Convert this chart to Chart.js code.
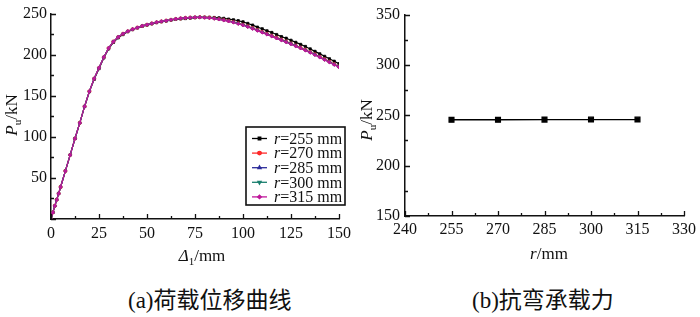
<!DOCTYPE html>
<html>
<head>
<meta charset="utf-8">
<script src="https://cdn.jsdelivr.net/npm/chart.js@4.4.1/dist/chart.umd.min.js"></script>
<style>
  body { margin: 0; background: #fff; }
  #wrap { position: relative; width: 700px; height: 317px; overflow: hidden; background: #fff; }
  canvas { position: absolute; top: 0; }
  .cap { position: absolute; top: 281px; font-size: 23px; color: #111; white-space: nowrap;
         font-family: "Liberation Serif", "Noto Sans CJK SC", serif; }
</style>
</head>
<body>
<div id="wrap">
  <canvas id="curves" width="360" height="270" style="left:0"></canvas>
  <canvas id="capacity" width="340" height="270" style="left:360px"></canvas>
  <div class="cap" style="left:128px">(a)荷载位移曲线</div>
  <div class="cap" style="left:472px">(b)抗弯承载力</div>
</div>
<script>
// displacement Δ1 (mm)
const disp = [0, 1, 2, 3, 4, 5, 7.5, 10, 12.5, 15, 17.5, 20, 22.5, 25, 27.5, 30, 32.5, 35, 37.5, 40,
  42.5, 45, 47.5, 50, 52.5, 55, 57.5, 60, 62.5, 65, 67.5, 70, 72.5, 75, 77.5, 80, 82.5, 85, 87.5, 90,
  92.5, 95, 97.5, 100, 102.5, 105, 107.5, 110, 112.5, 115, 117.5, 120, 122.5, 125, 127.5, 130, 132.5,
  135, 137.5, 140, 142.5, 145, 147.5, 150];

// load Pu (kN) for each r
const p255 = [0, 8, 16, 23.5, 31, 39, 58.5, 78, 98, 117, 137, 155, 170, 183, 196, 207, 215, 220.5, 224.5, 228,
  230.5, 232.5, 234.5, 236, 237.5, 239, 240, 241, 242, 243, 243.5, 244, 244.5, 245, 245.5, 245.5, 245.5, 245.2, 244.8, 244.2,
  243.3, 242.5, 241.3, 240, 238, 236, 233.5, 231.5, 229, 227, 224.5, 222, 220, 217.5, 215, 212.5, 210,
  207, 204, 201, 198, 195, 192, 189];
const p270 = [0, 8, 16, 23.5, 31, 39, 58.5, 78, 98, 117, 137, 155.5, 171, 184, 197, 208, 216, 221.5, 225.5, 228.5,
  231, 233, 235, 236.5, 238, 239.5, 240.5, 241.5, 242.5, 243.5, 244.2, 244.8, 245.2, 245.5, 245.6, 245.4, 245, 244.3, 243.4, 242.4,
  241.2, 239.8, 238.2, 236.5, 234.5, 232.3, 230, 227.7, 225.4, 223, 220.7, 218.3, 216, 213.5, 211, 208.5, 206,
  203.2, 200.4, 197.5, 194.5, 191.5, 188.5, 185.5];
const p285 = [0, 8, 16, 23.5, 31, 39, 58.5, 78, 98, 117, 137, 155.5, 171, 184, 197, 208, 216, 221.5, 225.5, 228.5,
  231, 233, 235, 236.5, 238, 239.5, 240.5, 241.5, 242.5, 243.5, 244.2, 244.8, 245.2, 245.5, 245.5, 245.3, 244.9, 244.2, 243.2, 242.2,
  241, 239.6, 238, 236.2, 234.2, 232, 229.7, 227.4, 225, 222.7, 220.3, 218, 215.6, 213.2, 210.7, 208.2, 205.6,
  202.9, 200.1, 197.2, 194.2, 191.2, 188.2, 185.2];
const p300 = [0, 8, 16, 23.5, 31, 39, 58.5, 78, 98, 117, 137, 155.5, 171, 184, 197, 208, 216, 221.5, 225.5, 228.5,
  231, 233, 235, 236.5, 238, 239.5, 240.5, 241.5, 242.5, 243.5, 244.2, 244.8, 245.2, 245.4, 245.5, 245.2, 244.8, 244, 243, 242,
  240.8, 239.4, 237.8, 236, 234, 231.7, 229.4, 227.1, 224.7, 222.4, 220, 217.7, 215.3, 212.9, 210.4, 207.9, 205.3,
  202.6, 199.8, 196.9, 193.9, 190.9, 187.9, 184.9];
const p315 = [0, 8, 16, 23.5, 31, 39, 58.5, 78, 98, 117, 137, 155.5, 171, 184, 197, 208, 216, 221.5, 225.5, 228.5,
  231, 233, 235, 236.5, 238, 239.5, 240.5, 241.5, 242.5, 243.5, 244.2, 244.8, 245.2, 245.4, 245.4, 245.1, 244.7, 243.9, 242.9, 241.8,
  240.6, 239.2, 237.6, 235.8, 233.8, 231.5, 229.2, 226.9, 224.5, 222.2, 219.8, 217.5, 215.1, 212.7, 210.2, 207.7, 205.1,
  202.4, 199.6, 196.7, 193.7, 190.7, 187.7, 184.7];

// capacity vs r
const radius = [255, 270, 285, 300, 315];
const capacity = [245.6, 245.6, 245.7, 245.8, 245.8];

const serif = '"Liberation Serif", "DejaVu Serif", serif';

function xy(xs, ys) { return xs.map((x, i) => ({ x: x, y: ys[i] })); }

// draws text made of pieces (italic / subscript) centred on x,y
function drawRich(ctx, parts, x, y, rot) {
  ctx.save();
  ctx.translate(x, y);
  if (rot) ctx.rotate(rot);
  ctx.textBaseline = 'middle';
  ctx.fillStyle = '#111';
  let w = 0;
  parts.forEach(p => { ctx.font = p.font; w += ctx.measureText(p.t).width; });
  let cx = -w / 2;
  parts.forEach(p => {
    ctx.font = p.font;
    ctx.fillText(p.t, cx, p.dy || 0);
    cx += ctx.measureText(p.t).width;
  });
  ctx.restore();
}

// inward tick marks
function tickPlugin(xStep, yStep) {
  return {
    id: 'ticks',
    afterDraw(chart) {
      const ctx = chart.ctx, xs = chart.scales.x, ys = chart.scales.y;
      const a = chart.chartArea;
      ctx.save();
      ctx.strokeStyle = '#111';
      ctx.lineWidth = 1.3;
      ctx.beginPath();
      let k = 0;
      for (let v = xs.min; v <= xs.max + 1e-6; v += xStep / 2, k++) {
        const px = Math.round(xs.getPixelForValue(v)) + 0.5;
        const len = k % 2 === 0 ? 5 : 3;
        ctx.moveTo(px, a.bottom); ctx.lineTo(px, a.bottom - len);
      }
      k = 0;
      for (let v = ys.min; v <= ys.max + 1e-6; v += yStep / 2, k++) {
        const py = Math.round(ys.getPixelForValue(v)) + 0.5;
        const len = k % 2 === 0 ? 5 : 3;
        ctx.moveTo(a.left, py); ctx.lineTo(a.left + len, py);
      }
      ctx.stroke();
      ctx.restore();
    }
  };
}

function axisOpts(min, max, step, pad, fit, hideZero) {
  return {
    type: 'linear', min: min, max: max,
    grid: { display: false, drawTicks: false },
    border: { display: true, color: '#111', width: 1.5 },
    ticks: {
      stepSize: step, padding: pad, color: '#111',
      font: { family: serif, size: 16 },
      callback: v => (hideZero && v === 0) ? '' : v
    },
    afterFit: fit
  };
}

const series = [
  { label: '255', data: p255, color: '#000000', style: 'rect', rot: 0 },
  { label: '270', data: p270, color: '#ff2a2a', style: 'circle', rot: 0 },
  { label: '285', data: p285, color: '#2b2b9a', style: 'triangle', rot: 0 },
  { label: '300', data: p300, color: '#1a7f6e', style: 'triangle', rot: 180 },
  { label: '315', data: p315, color: '#c0169a', style: 'rectRot', rot: 0 }
];

const legendPlugin = {
  id: 'boxLegend',
  afterDraw(chart) {
    const ctx = chart.ctx;
    const left = 246, top = 127, right = 345, bottom = 205;
    ctx.save();
    ctx.fillStyle = '#fff';
    ctx.fillRect(left, top, right - left, bottom - top);
    ctx.strokeStyle = '#111';
    ctx.lineWidth = 1.6;
    ctx.strokeRect(left, top, right - left, bottom - top);
    series.forEach((s, i) => {
      const y = 138.5 + i * 14.6;
      ctx.strokeStyle = s.color;
      ctx.lineWidth = 1.3;
      ctx.beginPath(); ctx.moveTo(252, y); ctx.lineTo(267, y); ctx.stroke();
      Chart.helpers.drawPoint(ctx, { pointStyle: s.style, rotation: s.rot, radius: 1.8, borderWidth: 1 }, 259.5, y);
      ctx.fillStyle = s.color;
      ctx.fill();
      drawRich(ctx, [
        { t: 'r', font: 'italic 16px ' + serif },
        { t: '=' + s.label + ' mm', font: '16px ' + serif }
      ], 308, y + 1);
    });
    ctx.restore();
  }
};

const curveTitles = {
  id: 'titles',
  afterDraw(chart) {
    const ctx = chart.ctx;
    drawRich(ctx, [
      { t: 'P', font: 'italic 17px ' + serif },
      { t: 'u', font: '11px ' + serif, dy: 5 },
      { t: '/kN', font: '17px ' + serif }
    ], 13, 115, -Math.PI / 2);
    drawRich(ctx, [
      { t: 'Δ', font: 'italic 17px ' + serif },
      { t: '1', font: '11px ' + serif, dy: 5 },
      { t: '/mm', font: '17px ' + serif }
    ], 202, 257, 0);
  }
};

new Chart(document.getElementById('curves'), {
  type: 'line',
  data: {
    datasets: series.map((s, i) => ({
      label: 'r=' + s.label + ' mm',
      data: xy(disp, s.data),
      borderColor: s.color,
      backgroundColor: s.color,
      pointBackgroundColor: s.color,
      pointBorderColor: s.color,
      pointStyle: s.style,
      pointRotation: s.rot,
      pointRadius: 1.6,
      pointBorderWidth: 0.8,
      borderWidth: 1.2,
      order: series.length - i
    }))
  },
  options: {
    responsive: false, animation: false, devicePixelRatio: 1,
    layout: { padding: { top: 11, right: 21, left: 0, bottom: 0 } },
    plugins: { legend: { display: false }, tooltip: { enabled: false } },
    scales: {
      x: axisOpts(0, 150, 25, 5, s => { s.height = 51; }, false),
      y: axisOpts(0, 250, 50, 4, s => { s.width = 51; }, true)
    }
  },
  plugins: [tickPlugin(25, 50), legendPlugin, curveTitles]
});

const capTitles = {
  id: 'titles2',
  afterDraw(chart) {
    const ctx = chart.ctx;
    drawRich(ctx, [
      { t: 'P', font: 'italic 17px ' + serif },
      { t: 'u', font: '11px ' + serif, dy: 5 },
      { t: '/kN', font: '17px ' + serif }
    ], 8, 120, -Math.PI / 2);
    drawRich(ctx, [
      { t: 'r', font: 'italic 17px ' + serif },
      { t: '/mm', font: '17px ' + serif }
    ], 189, 255, 0);
  }
};

new Chart(document.getElementById('capacity'), {
  type: 'line',
  data: {
    datasets: [{
      label: 'Pu',
      data: xy(radius, capacity),
      borderColor: '#000',
      backgroundColor: '#000',
      pointStyle: 'rect',
      pointRadius: 3.4,
      borderWidth: 1.3
    }]
  },
  options: {
    responsive: false, animation: false, devicePixelRatio: 1,
    layout: { padding: { top: 14, right: 16, left: 0, bottom: 0 } },
    plugins: { legend: { display: false }, tooltip: { enabled: false } },
    scales: {
      x: axisOpts(240, 330, 15, 4, s => { s.height = 54; }, false),
      y: axisOpts(150, 350, 50, 5, s => { s.width = 45; }, false)
    }
  },
  plugins: [tickPlugin(15, 50), capTitles]
});
</script>
</body>
</html>
